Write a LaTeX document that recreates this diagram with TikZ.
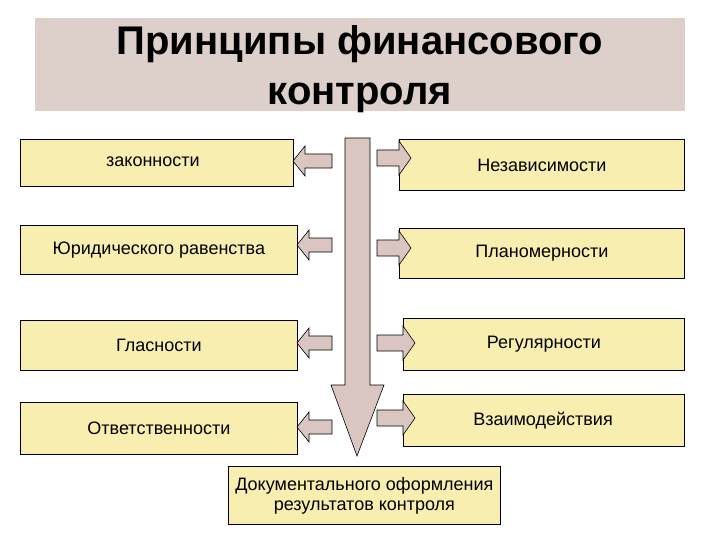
\documentclass[tikz,border=0pt]{standalone}
\usepackage{fontspec}
\setmainfont{Liberation Sans}
\begin{document}
\begin{tikzpicture}[x=1pt,y=-1pt,
 box/.style={draw=black,fill=boxy,line width=0.8pt,font=\fontsize{18}{21}\selectfont,inner sep=0pt},
 arr/.style={draw=black,fill=arrc,line width=0.6pt}]
\definecolor{boxy}{HTML}{F8EEB0}
\definecolor{arrc}{HTML}{D9C6C0}
\definecolor{band}{HTML}{DDCFCA}
\useasboundingbox (0,0) rectangle (720,540);
\node[fill=band,minimum width=650,minimum height=93,inner sep=0pt] (t) at (360,64.5) {};
\node[align=center,inner sep=0pt,font=\bfseries\fontsize{40}{50}\selectfont] (tt) at (360,69) {Принципы финансового\\контроля};
% vertical arrow
\draw[arr] (345,138) -- (370,138) -- (370,385) -- (384,385) -- (357,456) -- (331,385) -- (345,385) -- cycle;
\node[box,minimum width=273,minimum height=47,anchor=north west] (l1) at (20,139) {};
\node[anchor=west,inner sep=0pt,font=\fontsize{18}{21}\selectfont] (l1t) at (106,162) {законности};
\node[box,minimum width=277,minimum height=49,anchor=north west] (l2) at (20,225) {Юридического равенства};
\node[box,minimum width=277,minimum height=50,anchor=north west] (l3) at (20,320) {Гласности};
\node[box,minimum width=277,minimum height=52,anchor=north west] (l4) at (20,402) {Ответственности};
\node[box,minimum width=285,minimum height=51,anchor=north west] (r1) at (399,139) {Независимости};
\node[box,minimum width=285,minimum height=50,anchor=north west] (r2) at (399,228) {Планомерности};
\node[box,minimum width=281,minimum height=52,anchor=north west] (r3) at (403,318) {Регулярности};
\node[box,minimum width=281,minimum height=52,anchor=north west] (r4) at (403,394) {};
\node[inner sep=0pt,font=\fontsize{18}{21}\selectfont] (r4t) at (543,421) {Взаимодействия};
\node[box,minimum width=272,minimum height=58,anchor=north west,align=center,font=\fontsize{18}{20}\selectfont] (b) at (228,466) {Документального оформления\\результатов контроля};
% left arrows
\foreach \y/\xt in {161/293,245/297,343/297,427/297}{
 \draw[arr] (332,\y-7) -- (\xt+12,\y-7) -- (\xt+12,\y-15) -- (\xt,\y) -- (\xt+12,\y+15) -- (\xt+12,\y+7) -- (332,\y+7) -- cycle;}
% right arrows
\foreach \y/\xt in {158/411,248/411,343/415,418/415}{
 \draw[arr] (377,\y-8) -- (\xt-12,\y-8) -- (\xt-12,\y-17) -- (\xt,\y) -- (\xt-12,\y+17) -- (\xt-12,\y+8) -- (377,\y+8) -- cycle;}
\end{tikzpicture}
\end{document}
